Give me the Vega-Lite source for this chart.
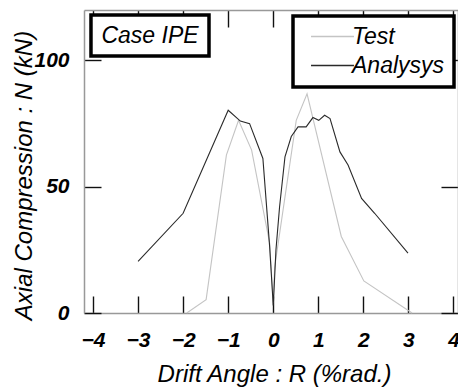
{
  "$schema": "https://vega.github.io/schema/vega-lite/v6.json",
  "width": 374,
  "height": 303,
  "autosize": {"type": "none"},
  "padding": {"left": 84, "top": 10, "right": 0, "bottom": 75},
  "background": "white",
  "config": {
    "view": {"stroke": null},
    "font": "Liberation Sans",
    "legend": {"strokeWidth": 3.5}
  },
  "datasets": {
    "curves": [
      {"series": "Test", "R": -1.92, "N": 0},
      {"series": "Test", "R": -1.49, "N": 5.3},
      {"series": "Test", "R": -1.04, "N": 62.5},
      {"series": "Test", "R": -0.77, "N": 76.3},
      {"series": "Test", "R": -0.48, "N": 64.5},
      {"series": "Test", "R": -0.08, "N": 27.7},
      {"series": "Test", "R": 0, "N": 4},
      {"series": "Test", "R": 0.03, "N": 18},
      {"series": "Test", "R": 0.51, "N": 76.3},
      {"series": "Test", "R": 0.75, "N": 86.8},
      {"series": "Test", "R": 1.51, "N": 30.3},
      {"series": "Test", "R": 2.01, "N": 12.7},
      {"series": "Test", "R": 3.08, "N": 0},
      {"series": "Analysys", "R": -3.0, "N": 20.4},
      {"series": "Analysys", "R": -2.0, "N": 39.5},
      {"series": "Analysys", "R": -1.0, "N": 80.3},
      {"series": "Analysys", "R": -0.73, "N": 76},
      {"series": "Analysys", "R": -0.525, "N": 75},
      {"series": "Analysys", "R": -0.23, "N": 61.2},
      {"series": "Analysys", "R": -0.08, "N": 26.3},
      {"series": "Analysys", "R": 0, "N": 3},
      {"series": "Analysys", "R": 0.06, "N": 25},
      {"series": "Analysys", "R": 0.14, "N": 42},
      {"series": "Analysys", "R": 0.26, "N": 61.8},
      {"series": "Analysys", "R": 0.4, "N": 69.9},
      {"series": "Analysys", "R": 0.55, "N": 73.7},
      {"series": "Analysys", "R": 0.73, "N": 73.7},
      {"series": "Analysys", "R": 0.88, "N": 77.4},
      {"series": "Analysys", "R": 1.01, "N": 76.3},
      {"series": "Analysys", "R": 1.14, "N": 78.3},
      {"series": "Analysys", "R": 1.26, "N": 77},
      {"series": "Analysys", "R": 1.48, "N": 63.8},
      {"series": "Analysys", "R": 1.66, "N": 58.6},
      {"series": "Analysys", "R": 1.96, "N": 45.4},
      {"series": "Analysys", "R": 2.25, "N": 39.5},
      {"series": "Analysys", "R": 2.99, "N": 23.7}
    ],
    "caseLabel": [{"label": "Case IPE"}]
  },
  "layer": [
    {
      "data": {"name": "curves"},
      "mark": {"type": "line", "strokeWidth": 1.1},
      "encoding": {
        "x": {
          "field": "R", "type": "quantitative",
          "scale": {"domain": [-4.2, 4.1], "nice": false, "zero": false},
          "axis": {
            "orient": "bottom",
            "values": [-4, -3, -2, -1, 0, 1, 2, 3, 4],
            "grid": false,
            "domainColor": "#999", "domainWidth": 1.5,
            "ticks": true,
            "tickColor": "#111", "tickSize": -17, "tickWidth": 1.4,
            "labelFont": "Liberation Sans", "labelFontSize": 21, "labelFontStyle": "italic", "labelFontWeight": "bold",
            "labelColor": "black", "labelPadding": 33, "labelFlush": false,
            "title": "Drift Angle : R (%rad.)",
            "titleFont": "Liberation Sans", "titleFontSize": 24, "titleFontStyle": "italic", "titleFontWeight": "normal",
            "titleColor": "black", "titleBaseline": "middle", "titleY": 61, "titleX": 190
          }
        },
        "y": {
          "field": "N", "type": "quantitative",
          "scale": {"domain": [0, 120], "nice": false},
          "axis": {
            "orient": "left",
            "values": [0, 50, 100],
            "grid": false,
            "domainColor": "#999", "domainWidth": 1.5,
            "ticks": true,
            "tickColor": "#111", "tickSize": -17, "tickWidth": 1.4,
            "labelFont": "Liberation Sans", "labelFontSize": 21, "labelFontStyle": "italic", "labelFontWeight": "bold",
            "labelColor": "black", "labelPadding": 32, "labelFlush": false,
            "title": "Axial Compression : N (kN)",
            "titleFont": "Liberation Sans", "titleFontSize": 24, "titleFontStyle": "italic", "titleFontWeight": "normal",
            "titleColor": "black", "titleAngle": -90, "titleBaseline": "middle", "titleAlign": "center",
            "titleX": -60, "titleY": 165
          }
        },
        "color": {
          "field": "series", "type": "nominal",
          "scale": {"domain": ["Test", "Analysys"], "range": ["#c4c4c4", "#2a2a2a"]},
          "legend": {
            "title": null,
            "orient": "none", "legendX": 209, "legendY": 6,
            "fillColor": "white", "strokeColor": "black",
            "padding": 9,
            "symbolType": "M-3,0H3", "symbolSize": 205, "symbolStrokeWidth": 1.5, "symbolOffset": 19,
            "labelFont": "Liberation Sans", "labelFontSize": 23, "labelFontStyle": "italic",
            "labelColor": "black", "labelOffset": 8, "rowPadding": 5
          }
        }
      }
    },
    {
      "mark": {"type": "rule", "color": "#999", "strokeWidth": 1.5},
      "encoding": {
        "x": {
          "datum": 0, "type": "quantitative",
          "axis": {
            "orient": "top", "values": [-4, -3, -2, -1, 0, 1, 2, 3, 4], "labels": false, "title": null,
            "grid": false, "domainColor": "#999", "domainWidth": 1.5,
            "tickColor": "#111", "tickSize": -17, "tickWidth": 1.4
          }
        },
        "y": {
          "datum": 0, "type": "quantitative",
          "axis": {
            "orient": "right", "values": [0, 50, 100], "labels": false, "title": null,
            "grid": false, "domainColor": "#999", "domainWidth": 1.5,
            "tickColor": "#111", "tickSize": -17, "tickWidth": 1.4
          }
        },
        "y2": {"datum": 120}
      }
    },
    {
      "data": {"name": "caseLabel"},
      "mark": {"type": "rect", "fill": "white", "stroke": "black", "strokeWidth": 3.5},
      "encoding": {
        "x": {"datum": -4.045, "type": "quantitative", "axis": null},
        "x2": {"datum": -1.426},
        "y": {"datum": 118, "type": "quantitative", "axis": null},
        "y2": {"datum": 101.8}
      }
    },
    {
      "data": {"name": "caseLabel"},
      "mark": {"type": "text", "font": "Liberation Sans", "fontSize": 23, "fontStyle": "italic", "color": "black", "align": "center", "baseline": "middle"},
      "encoding": {
        "x": {"datum": -2.735, "type": "quantitative", "axis": null},
        "y": {"datum": 109.7, "type": "quantitative", "axis": null},
        "text": {"field": "label"}
      }
    }
  ],
  "resolve": {"axis": {"x": "independent", "y": "independent"}}
}
